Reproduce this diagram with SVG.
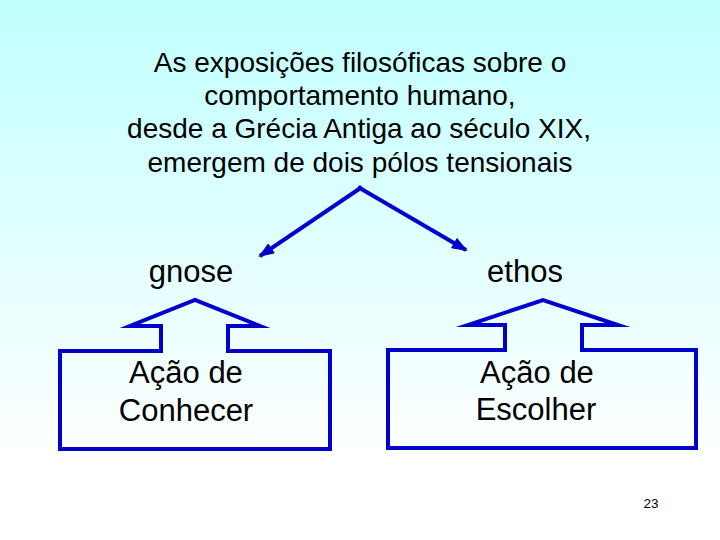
<svg xmlns="http://www.w3.org/2000/svg" width="720" height="540" viewBox="0 0 720 540">
<defs>
<linearGradient id="bg" x1="0" y1="0" x2="0" y2="1">
<stop offset="0" stop-color="#C0FFFF"/>
<stop offset="0.85" stop-color="#FFFFFF"/>
<stop offset="1" stop-color="#FFFFFF"/>
</linearGradient>
<marker id="ah" markerUnits="userSpaceOnUse" markerWidth="16" markerHeight="12" refX="14" refY="6" orient="auto">
<path d="M0,0 L16,6 L0,12 z" fill="#0000CC"/>
</marker>
<style>
.t{font-family:"Liberation Sans",Arial,sans-serif;fill:#000;text-anchor:middle}
.shape{fill:none;stroke:#0000CC;stroke-width:4;stroke-miterlimit:20}
.conn{fill:none;stroke:#0000CC;stroke-width:4}
</style>
</defs>
<rect x="0" y="0" width="720" height="540" fill="url(#bg)"/>
<g id="title">
<text class="t" font-size="28" x="360" y="72">As exposições filosóficas sobre o</text>
<text class="t" font-size="28" x="360" y="105">comportamento humano,</text>
<text class="t" font-size="28" x="359" y="138">desde a Grécia Antiga ao século XIX,</text>
<text class="t" font-size="28" x="360" y="172">emergem de dois pólos tensionais</text>
</g>
<g id="connectors">
<path class="conn" d="M362,187 L260,256" marker-end="url(#ah)"/>
<path class="conn" d="M358,187 L466,250" marker-end="url(#ah)"/>
</g>
<g id="gnose">
<text class="t" font-size="31" x="191" y="282">gnose</text>
</g>
<g id="ethos">
<text class="t" font-size="31" x="525" y="282">ethos</text>
</g>
<g id="conhecer">
<polygon class="shape" points="60,351 161,351 161,326 130,326 195,300 260,326 228,326 228,351 330,351 330,449 60,449"/>
<text class="t" font-size="31" x="186" y="383">Ação de</text>
<text class="t" font-size="31" x="186" y="421">Conhecer</text>
</g>
<g id="escolher">
<polygon class="shape" points="388,350 505,350 505,325 468,325 543,300 618,325 582,325 582,350 696,350 696,448 388,448"/>
<text class="t" font-size="31" x="537" y="383">Ação de</text>
<text class="t" font-size="31" x="536" y="420">Escolher</text>
</g>
<text class="t" font-size="13.5" x="651" y="508">23</text>
</svg>
